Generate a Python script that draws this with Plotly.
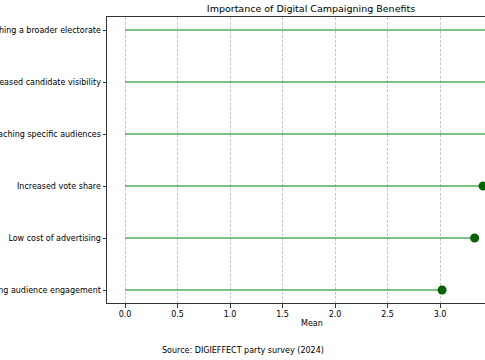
import plotly.graph_objects as go

categories = [
    "Increasing audience engagement",
    "Low cost of advertising",
    "Increased vote share",
    "Reaching specific audiences",
    "Increased candidate visibility",
    "Reaching a broader electorate",
]
means = [3.02, 3.33, 3.41, 3.50, 3.52, 3.55]
x_ticks = [0.0, 0.5, 1.0, 1.5, 2.0, 2.5, 3.0]
x_tick_labels = ["0.0", "0.5", "1.0", "1.5", "2.0", "2.5", "3.0"]
title_text = "Importance of Digital Campaigning Benefits"
source_text = "Source: DIGIEFFECT party survey (2024)"
x_label = "Mean"

FONT = "DejaVu Sans"
W, H = 485, 360
L, R, T, B = 107, 0, 17, 57
plot_w = W - L - R
plot_h = H - T - B

pos = list(range(len(categories)))

line_x, line_y = [], []
for p, v in zip(pos, means):
    line_x += [0, v, None]
    line_y += [p, p, None]

fig = go.Figure()
fig.add_trace(go.Scatter(
    x=line_x, y=line_y, mode="lines",
    line=dict(color="rgba(0,128,0,0.5)", width=2),
    hoverinfo="skip", showlegend=False,
))
fig.add_trace(go.Scatter(
    x=means, y=pos, mode="markers",
    marker=dict(color="#006400", size=9),
    showlegend=False,
))

def px_to_paper_x(px):
    return (px - L) / plot_w

def px_to_paper_y(py):
    return (H - B - py) / plot_h

fig.update_layout(
    width=W, height=H,
    margin=dict(l=L, r=R, t=T, b=B, pad=0, autoexpand=False),
    paper_bgcolor="white", plot_bgcolor="white",
    font=dict(family=FONT, size=8, color="#000000"),
    xaxis=dict(
        range=[-(125 - L) / 105, (W - 125) / 105],
        tickvals=x_ticks, ticktext=x_tick_labels, automargin=False,
        showgrid=True, gridcolor="#c8c8c8", griddash="3px,1.5px", gridwidth=0.8,
        zeroline=False, showline=True, linecolor="#333333", linewidth=1,
        mirror=True, ticks="outside", ticklen=3.5, tickwidth=0.8,
        tickcolor="#333333",
    ),
    yaxis=dict(
        range=[-0.25, len(categories) - 0.75], automargin=False,
        tickvals=pos, ticktext=categories,
        showgrid=False, zeroline=False, showline=True,
        linecolor="#333333", linewidth=1,
        ticks="outside", ticklen=3.5, tickwidth=0.8, tickcolor="#333333",
    ),
    title=dict(
        text=title_text, xref="container", yref="container",
        x=311 / W, y=(H - 9) / H, xanchor="center", yanchor="middle",
        font=dict(family=FONT, size=9.5, color="#000000"),
        automargin=False,
    ),
    annotations=[
        dict(text=x_label, xref="paper", yref="paper",
             x=px_to_paper_x(312), y=px_to_paper_y(323),
             xanchor="center", yanchor="middle", showarrow=False,
             font=dict(family=FONT, size=8, color="#000000")),
        dict(text=source_text, xref="paper", yref="paper",
             x=px_to_paper_x(242.5), y=px_to_paper_y(350),
             xanchor="center", yanchor="middle", showarrow=False,
             font=dict(family=FONT, size=8, color="#000000")),
    ],
)

fig.write_html("out.html")
